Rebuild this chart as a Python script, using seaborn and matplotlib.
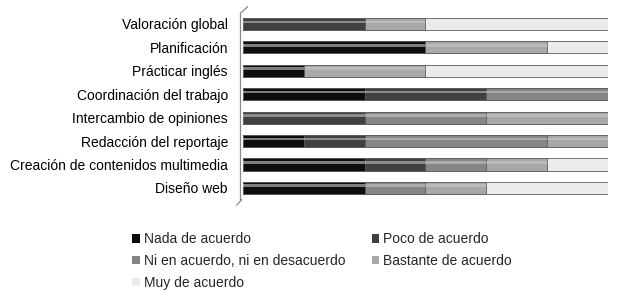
import numpy as np
import pandas as pd
import seaborn as sns
import matplotlib.pyplot as plt
from matplotlib.patches import Patch, Rectangle

#%% data (answers per item, 6 respondents)
categorias = ['Valoración global', 'Planificación', 'Prácticar inglés',
              'Coordinación del trabajo', 'Intercambio de opiniones',
              'Redacción del reportaje', 'Creación de contenidos multimedia',
              'Diseño web']
nada     = [0, 3, 1, 2, 0, 1, 2, 2]
poco     = [2, 0, 0, 2, 2, 1, 1, 0]
ni       = [0, 0, 0, 2, 2, 3, 1, 1]
bastante = [1, 2, 2, 0, 2, 1, 1, 1]
muy      = [3, 1, 3, 0, 0, 0, 1, 2]
respuestas = ['Nada de acuerdo', 'Poco de acuerdo',
              'Ni en acuerdo, ni en desacuerdo', 'Bastante de acuerdo',
              'Muy de acuerdo']
colores = ['#0d0d0d', '#404040', '#858585', '#a8a8a8', '#ebebeb']

#%% percentages, cumulative for stacking
df = pd.DataFrame({'Nada': nada, 'Poco': poco, 'Ni': ni,
                   'Bastante': bastante, 'Muy': muy}, index=categorias)
pct = df.div(df.sum(axis=1), axis=0) * 100
cum = pct.cumsum(axis=1)

#%% plot
sns.set_style('white')
plt.rcParams['font.family'] = ['Liberation Sans', 'DejaVu Sans']

fig = plt.figure(figsize=(6.22, 2.92), dpi=100)
ax = fig.add_axes([0.391, 0.3165, 0.586, 0.6415])

# draw from the full bar down so each level covers the one before it
for i in reversed(range(len(respuestas))):
    sns.barplot(x=cum.iloc[:, i].values, y=categorias, orient='h',
                color=colores[i], saturation=1, width=0.52,
                edgecolor='#5e5e5e', linewidth=0.6, ax=ax)

# soft highlight to hint at the cylinder look
for p in list(ax.patches):
    x, y = p.get_x(), p.get_y()
    w, h = p.get_width(), p.get_height()
    if w > 0:
        ax.add_patch(Rectangle((x, y + h * 0.22), w, h * 0.22,
                               facecolor='white', alpha=0.12,
                               edgecolor='none', zorder=3))

ax.set_xlim(0, 100)
ax.set_ylim(7.5, -0.5)
ax.set_xlabel('')
ax.set_ylabel('')
ax.set_xticks([])
ax.tick_params(axis='y', length=0, pad=9, labelsize=10, colors='black')
ax.set_yticks(np.arange(-0.5, 8, 1), minor=True)
ax.tick_params(axis='y', which='minor', length=3, color='#888888', width=0.8)
for s in ['top', 'right', 'bottom']:
    ax.spines[s].set_visible(False)
ax.spines['left'].set_color('#8a8a8a')
ax.spines['left'].set_linewidth(0.9)
ax.spines['left'].set_position(('outward', 2))

# little perspective slants at the ends of the axis wall
ax.plot([-0.004, 0.012], [1.0, 1.03], transform=ax.transAxes,
        color='#8a8a8a', lw=0.9, clip_on=False)
ax.plot([-0.004, -0.018], [0.0, -0.03], transform=ax.transAxes,
        color='#8a8a8a', lw=0.9, clip_on=False)

#%% legend, filled row by row
orden = [0, 2, 4, 1, 3]
handles = [Patch(facecolor=colores[k], edgecolor='none') for k in orden]
labels = [respuestas[k] for k in orden]
fig.legend(handles, labels, ncol=2, loc='upper left',
           bbox_to_anchor=(0.212, 0.204), frameon=False, fontsize=10,
           handlelength=0.55, handleheight=0.55, handletextpad=0.3,
           columnspacing=1.9, labelspacing=0.56, borderpad=0,
           borderaxespad=0)

plt.savefig('out.png', dpi=100)
